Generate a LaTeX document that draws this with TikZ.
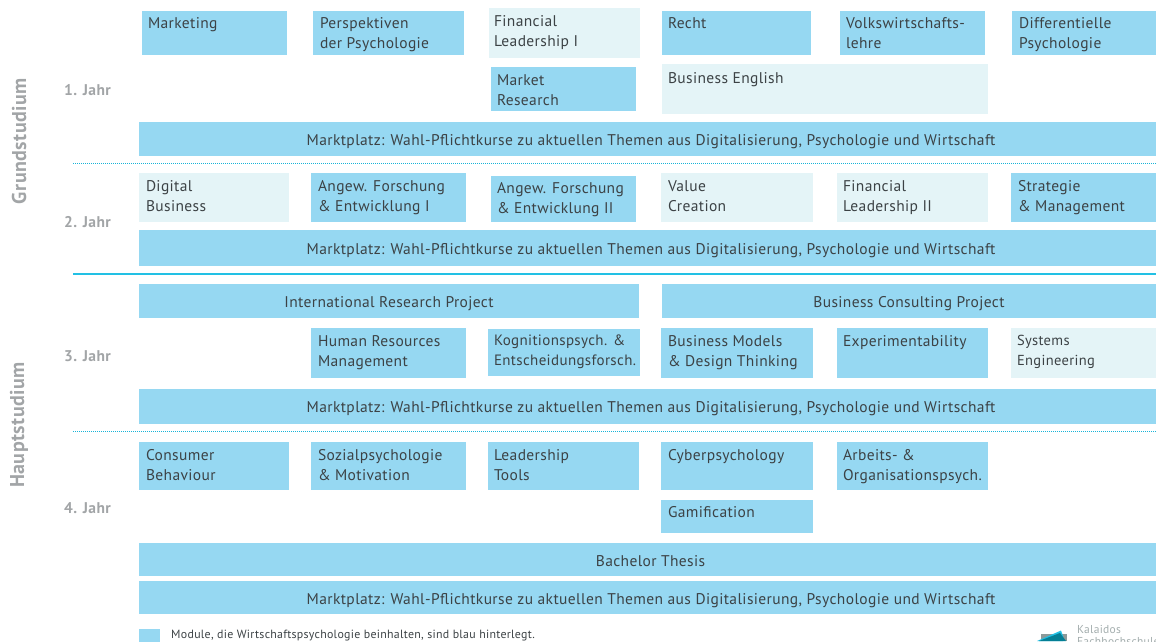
\documentclass[tikz,border=0pt]{standalone}
\usepackage{fontspec}
\setmainfont[LetterSpace=2.4]{PT Sans}
\definecolor{modblue}{HTML}{96D8F2}
\definecolor{modlight}{HTML}{E4F4F7}
\definecolor{ink}{HTML}{3C4245}
\definecolor{sidegrey}{HTML}{A2A5A7}
\definecolor{rulecyan}{HTML}{22C0E4}
\definecolor{ruledot}{HTML}{18B4D8}
\definecolor{logogrey}{HTML}{8C9A9A}
\definecolor{logoteal}{HTML}{047F95}
\definecolor{logotext}{HTML}{A3ADAD}
\newcommand{\bxfont}{\fontsize{15.5}{20}\selectfont}
\tikzset{
  modbox/.style={anchor=north west,inner sep=0pt,outer sep=0pt,text=ink,font=\bxfont},
  blue/.style={modbox,fill=modblue},
  pale/.style={modbox,fill=modlight},
  year/.style={anchor=base west,inner sep=0pt,text=sidegrey,font=\fontsize{15.5}{16}\selectfont\bfseries},
  side/.style={rotate=90,inner sep=0pt,text=sidegrey,font=\fontsize{20}{20}\selectfont\bfseries},
}
% style, name, x1, y1, x2, y2, text x, first baseline, text
\newcommand{\bx}[9][blue]{%
  \pgfmathsetlengthmacro\bxw{(#5-#3)*1pt}%
  \pgfmathsetlengthmacro\bxh{(#6-#4)*1pt}%
  \pgfmathsetlengthmacro\bxd{(#7-#3)*1pt}%
  \pgfmathsetlengthmacro\bxb{(#8-#4)*1pt}%
  \node[#1] (#2) at (#3,#4) {\parbox[c][\bxh][t]{\bxw}{\leftskip=\bxd\relax\parindent=0pt\rule{0pt}{\bxb}#9}};}
\newcommand{\mk}[4]{%
  \pgfmathsetlengthmacro\bxw{1017pt}%
  \pgfmathsetlengthmacro\bxh{(#3-#2)*1pt}%
  \pgfmathsetlengthmacro\bxb{(#4-#2)*1pt}%
  \node[blue] (#1) at (139,#2) {\parbox[c][\bxh][t]{\bxw}{\hspace*{3.5pt}\makebox[\bxw]{\rule{0pt}{\bxb}\addfontfeatures{LetterSpace=2.5}Marktplatz: Wahl-Pflichtkurse zu aktuellen Themen aus Digitalisierung, Psychologie und Wirtschaft}}};}
\newcommand{\ct}[6]{%
  \pgfmathsetlengthmacro\bxw{(#4-#2)*1pt}%
  \pgfmathsetlengthmacro\bxh{(#5-#3)*1pt}%
  \pgfmathsetlengthmacro\bxb{23pt}%
  \node[blue] (#1) at (#2,#3) {\parbox[c][\bxh][t]{\bxw}{\centering\rule{0pt}{\bxb}#6}};}
\begin{document}
\begin{tikzpicture}[x=1pt,y=-1pt]
\useasboundingbox (0,0) rectangle (1156,641);
\begin{scope}
\clip (0,0) rectangle (1156,641);
% Row 1
\bx{marketing}{142}{11}{287}{55}{148}{28}{Marketing}
\bx{persp}{313}{11}{464}{55}{320}{28}{Perspektiven\\der Psychologie}
\bx[pale]{finI}{489}{8}{640}{58}{494}{26}{Financial\\Leadership I}
\bx{recht}{662}{11}{811}{55}{668}{28}{Recht}
\bx{vwl}{840}{11}{985}{55}{846}{28}{Volkswirtschafts-\\lehre}
\bx{diff}{1012}{11}{1156}{55}{1019}{28}{Differentielle\\Psychologie}
\bx{market}{491}{67}{636}{111}{497}{85}{Market\\Research}
\bx[pale]{english}{662}{64}{988}{114}{668}{83}{Business English}
\mk{mkA}{122}{156}{145}
% Row 2
\bx[pale]{digital}{139}{173}{289}{222}{146}{191}{Digital\\Business}
\bx{angewI}{311}{173}{466}{222}{318}{191}{Angew. Forschung\\\& Entwicklung I}
\bx{angewII}{491}{176}{636}{222}{497}{193}{Angew. Forschung\\\& Entwicklung II}
\bx[pale]{value}{661}{173}{813}{222}{668}{191}{Value\\Creation}
\bx[pale]{finII}{837}{173}{988}{222}{843}{191}{Financial\\Leadership II}
\bx{strat}{1011}{173}{1156}{222}{1018}{191}{Strategie\\\& Management}
\mk{mkB}{230}{266}{254}
% Row 3
\ct{irp}{139}{284}{639}{318}{International Research Project}
\ct{bcp}{662}{284}{1156}{318}{Business Consulting Project}
\bx{hr}{311}{328}{466}{378}{318}{346}{Human Resources\\Management}
\bx{kog}{488}{329}{640}{376}{494}{345}{\fontsize{15}{20}\selectfont Kognitionspsych. \&\\Entscheidungsforsch.}
\bx{bm}{661}{328}{813}{378}{668}{346}{Business Models\\\& Design Thinking}
\bx{exp}{837}{328}{988}{378}{843}{346}{Experimentability}
\bx[pale]{sys}{1011}{328}{1156}{378}{1017}{345}{\fontsize{14.5}{20}\selectfont Systems\\Engineering}
\mk{mkC}{389}{424}{412}
% Row 4
\bx{consumer}{139}{442}{289}{490}{146}{460}{Consumer\\Behaviour}
\bx{sozial}{311}{442}{466}{490}{318}{460}{Sozialpsychologie\\\& Motivation}
\bx{leader}{488}{442}{639}{490}{494}{460}{Leadership\\Tools}
\bx{cyber}{661}{442}{813}{490}{668}{460}{Cyberpsychology}
\bx{arbeit}{837}{442}{988}{490}{843}{460}{Arbeits- \&\\Organisationspsych.}
\bx{gami}{661}{500}{813}{533}{668}{517}{Gamification}
\ct{thesis}{139}{543}{1156}{576}{\hspace*{6pt}Bachelor Thesis}
\mk{mkD}{581}{614}{604}
% Rules
\coordinate (dotA) at (73,163.5); \coordinate (dotAe) at (1156,163.5);
\coordinate (solA) at (73,274); \coordinate (solAe) at (1156,274);
\coordinate (dotB) at (73,431.5); \coordinate (dotBe) at (1156,431.5);
\draw[ruledot,line width=1pt,dash pattern=on 1pt off 1pt] (dotA) -- (dotAe);
\draw[rulecyan,line width=1.3pt] (solA) -- (solAe);
\draw[ruledot,line width=1pt,dash pattern=on 1pt off 1pt] (dotB) -- (dotBe);
% Year and phase labels
\node[year] (j1) at (64,95) {1. Jahr};
\node[year] (j2) at (64,227) {2. Jahr};
\node[year] (j3) at (64,361) {3. Jahr};
\node[year] (j4) at (64,513) {4. Jahr};
\node[side] (grund) at (19,141) {Grundstudium};
\node[side] (haupt) at (19,425) {Hauptstudium};
% Legend
\node[fill=modblue,anchor=north west,minimum width=21pt,minimum height=14pt,inner sep=0pt] (legbox) at (139,629) {};
\node[anchor=base west,inner sep=0pt,text=ink,font=\fontsize{11.9}{12}\selectfont] (legtext) at (171,638) {Module, die Wirtschaftspsychologie beinhalten, sind blau hinterlegt.};
% Logo
\fill[logogrey] (1041,634) rectangle (1067,641);
\fill[rulecyan] (1037,641) -- (1061,630.5) -- (1063,636) -- (1063,641) -- cycle;
\fill[logoteal] (1039,641) -- (1060,633) -- (1066,641) -- cycle;
\node[anchor=base west,inner sep=0pt,text=logotext,font=\fontsize{11.5}{12}\selectfont] (kal) at (1077,633) {Kalaidos};
\node[anchor=base west,inner sep=0pt,text=logotext,font=\fontsize{11.5}{12}\selectfont] (fh) at (1077,645) {Fachhochschule};
\end{scope}
\end{tikzpicture}
\end{document}
